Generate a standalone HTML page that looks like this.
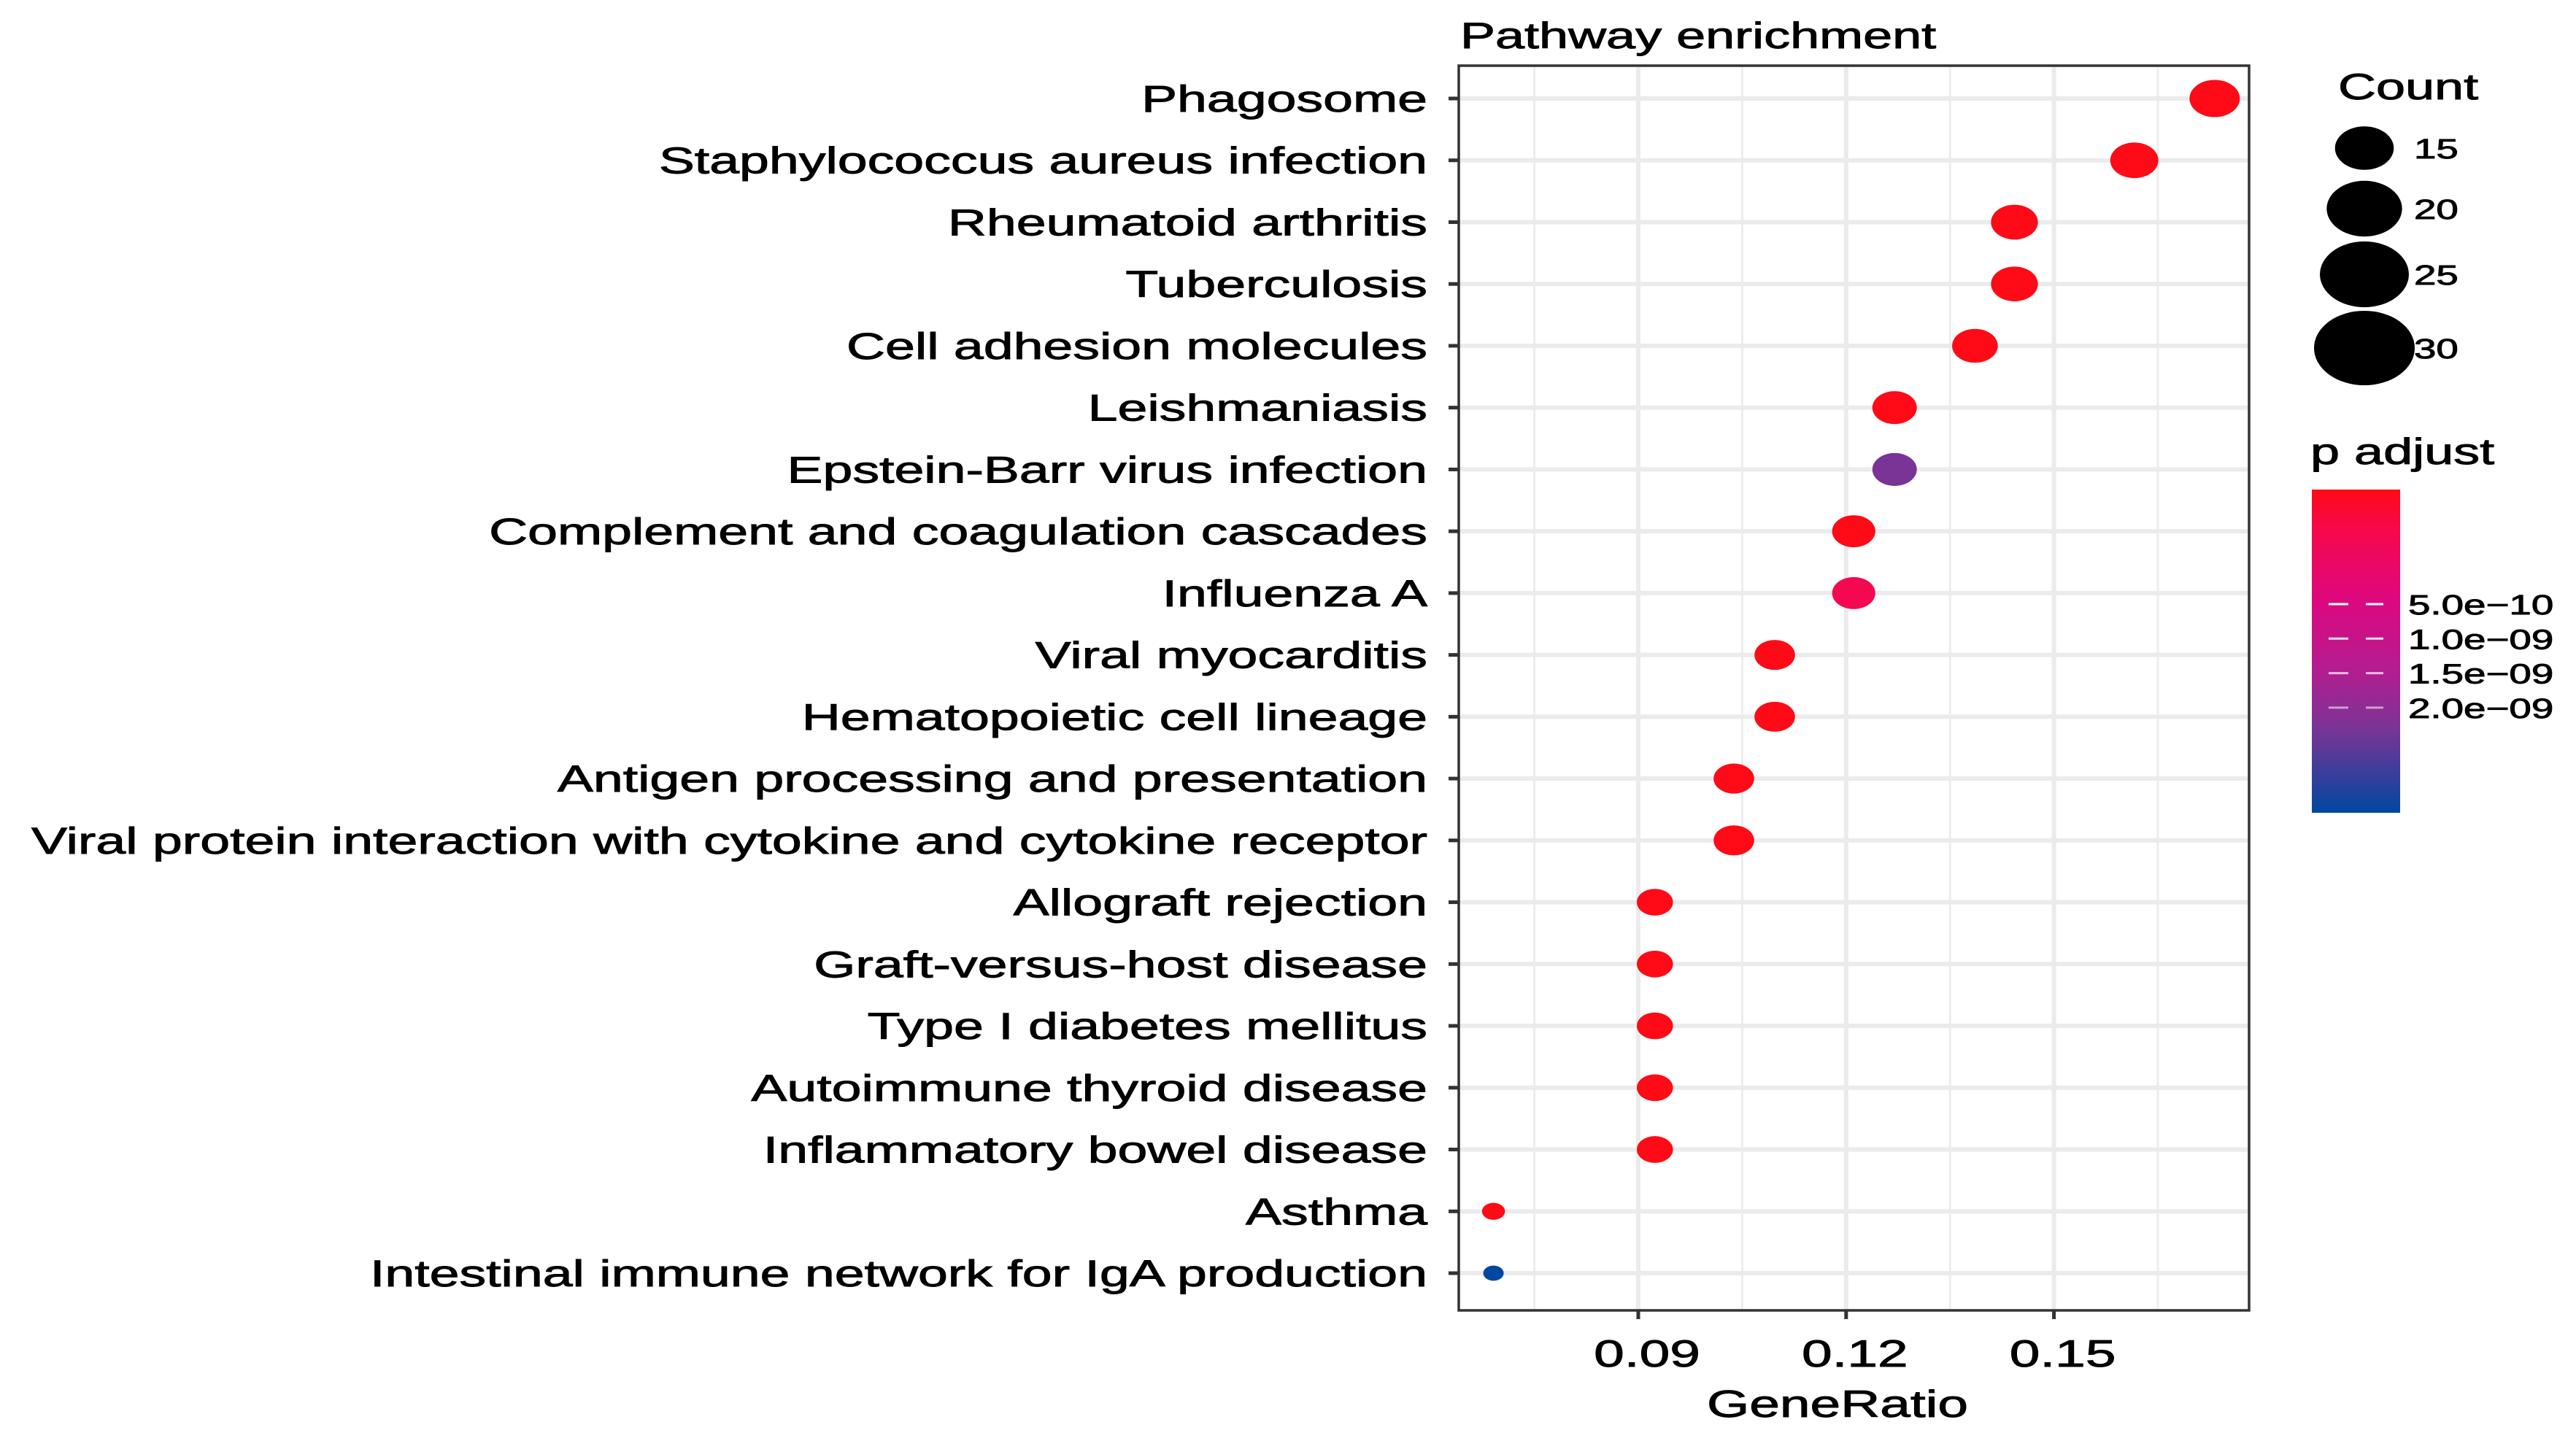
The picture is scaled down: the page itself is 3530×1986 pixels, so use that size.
<!DOCTYPE html>
<html><head><meta charset="utf-8"><style>
html,body{margin:0;padding:0;background:#fff}
svg{display:block}
text{font-family:"Liberation Sans",Arial,sans-serif;fill:#000;stroke:#000;stroke-width:0.9px}
</style></head><body>
<svg id="chart" width="3530" height="1986" viewBox="0 0 3530 1986" xmlns="http://www.w3.org/2000/svg">
<rect width="3530" height="1986" fill="#fff"/>
<g id="grid"></g><g id="points"></g><g id="axes"></g><g id="legend"></g>
</svg>
<script>
const pathways = ["Phagosome","Staphylococcus aureus infection","Rheumatoid arthritis","Tuberculosis","Cell adhesion molecules","Leishmaniasis","Epstein-Barr virus infection","Complement and coagulation cascades","Influenza A","Viral myocarditis","Hematopoietic cell lineage","Antigen processing and presentation","Viral protein interaction with cytokine and cytokine receptor","Allograft rejection","Graft-versus-host disease","Type I diabetes mellitus","Autoimmune thyroid disease","Inflammatory bowel disease","Asthma","Intestinal immune network for IgA production"];
const geneRatio = [0.1732,0.1616,0.1443,0.1443,0.1386,0.1270,0.1270,0.1211,0.1211,0.1097,0.1097,0.1038,0.1038,0.0924,0.0924,0.0924,0.0924,0.0924,0.0691,0.0691];
const counts = [30,28,27,27,26,25,25,24,24,22,22,22,22,19,19,19,19,19,12,11];
const pAdjust = [1e-13,1e-13,1e-13,1e-13,1e-13,1e-13,2.6e-9,1e-13,5e-10,1e-13,1e-13,1e-13,1e-13,1e-13,1e-13,1e-13,1e-13,1e-13,1e-13,3.52e-9];
const xTicks = [0.09,0.12,0.15];
const xTickLabels = ["0.09","0.12","0.15"];
const xMinor = [0.075,0.105,0.135,0.165];
const sizeLegendCounts = [15,20,25,30];
const pTicks = [5e-10,1e-9,1.5e-9,2e-9];
const pTickLabels = ["5.0e\u221210","1.0e\u221209","1.5e\u221209","2.0e\u221209"];

const NS="http://www.w3.org/2000/svg";
const P={l:1999,r:3082,t:90,b:1796};
function xS(v){return 2245+(v-0.09)/0.03*284.8;}
function yS(i){return 135+i*(1745-135)/(pathways.length-1);}
const cMin=11,cMax=30,rMin=14,rMax=34.5;
function rS(c){return Math.sqrt(rMin*rMin+Math.max(0,(c-cMin))/(cMax-cMin)*(rMax*rMax-rMin*rMin));}
const pMax=3.52e-9;
const stops=[[0,[255,10,22]],[0.12,[247,8,74]],[0.35,[220,8,128]],[0.55,[182,28,144]],[0.74,[122,52,150]],[1,[0,71,160]]];
function colorAt(t){t=Math.max(0,Math.min(1,t));for(let i=1;i<stops.length;i++){if(t<=stops[i][0]){const a=stops[i-1],b=stops[i];const f=(t-a[0])/(b[0]-a[0]);const c=a[1].map((v,k)=>Math.round(v+(b[1][k]-v)*f));return `rgb(${c.join(',')})`;}}return 'rgb(0,71,160)';}
function cS(p){return colorAt(p/pMax);}
function el(tag,attrs,parent,txt){const e=document.createElementNS(NS,tag);for(const k in attrs)e.setAttribute(k,attrs[k]);if(txt!==undefined)e.textContent=txt;parent.appendChild(e);return e;}
const grid=document.getElementById('grid'),pts=document.getElementById('points'),axes=document.getElementById('axes'),leg=document.getElementById('legend'),svg=document.getElementById('chart');
const SX=1.44;
function stretchText(x,y,str,size,anchor,parent){
  const g=el('g',{transform:`translate(${x},${y}) scale(${SX},1)`},parent);
  const t=el('text',{x:0,y:0,'font-size':size,'text-anchor':anchor},g,str);
  return t;
}
xMinor.forEach(v=>{const l=el('line',{x1:xS(v),x2:xS(v),y1:P.t,y2:P.b,stroke:'#ececec','stroke-width':3},grid);

});
xTicks.forEach(v=>{const l=el('line',{x1:xS(v),x2:xS(v),y1:P.t,y2:P.b,stroke:'#ebebeb','stroke-width':6},grid);

});
pathways.forEach((p,i)=>{const l=el('line',{x1:P.l,x2:P.r,y1:yS(i),y2:yS(i),stroke:'#ebebeb','stroke-width':6},grid);

});
pathways.forEach((p,i)=>{const r=rS(counts[i]);
const e=el('ellipse',{cx:xS(geneRatio[i]),cy:yS(i),rx:r,ry:r*0.74,fill:cS(pAdjust[i])},pts);

});
const bd=el('rect',{x:P.l,y:P.t,width:P.r-P.l,height:P.b-P.t,fill:'none',stroke:'#333','stroke-width':3.5},axes);


pathways.forEach((p,i)=>{
const tk=el('line',{x1:P.l-14,x2:P.l,y1:yS(i),y2:yS(i),stroke:'#333','stroke-width':5},axes);


const t=stretchText(1956,yS(i)+18,p,51,'end',axes);

});
xTicks.forEach((v,i)=>{const tk=el('line',{x1:xS(v),x2:xS(v),y1:P.b,y2:P.b+12,stroke:'#333','stroke-width':5},axes);


const t=stretchText(xS(v)+12,1873,xTickLabels[i],52,'middle',axes);

});
const xt=stretchText(2518,1942,'GeneRatio',52,'middle',axes);


const tt=stretchText(2001,66,'Pathway enrichment',50,'start',axes);


const ct=stretchText(3204,136,'Count',50,'start',leg);


const keyY=[203,286,376,477];
sizeLegendCounts.forEach((c,i)=>{const r=rS(c)*2.0;
const e=el('ellipse',{cx:3240,cy:keyY[i],rx:r,ry:r*0.74,fill:'#000'},leg);


const t=stretchText(3308,keyY[i]+14,String(c),38,'start',leg);

});
const pt=stretchText(3166,636,'p adjust',50,'start',leg);


const defs=el('defs',{},svg);
const lg=el('linearGradient',{id:'pg',x1:0,y1:0,x2:0,y2:1},defs);
stops.forEach(s=>el('stop',{offset:s[0],'stop-color':colorAt(s[0])},lg));
const CB={x:3168,y:671,w:121,h:443};
const cb=el('rect',{x:CB.x,y:CB.y,width:CB.w,height:CB.h,fill:'url(#pg)'},leg);


function pY(p){return 828+(p-5e-10)/5e-10*47.3;}
pTicks.forEach((p,i)=>{const y=pY(p);
[[3191,3218],[3242,3266]].forEach(s=>{const l=el('line',{x1:s[0],x2:s[1],y1:y,y2:y,stroke:'#fff','stroke-width':3,'stroke-opacity':1-i*0.15},leg);

});
const t=stretchText(3300,y+14,pTickLabels[i],38,'start',leg);

});
</script>
</body></html>
